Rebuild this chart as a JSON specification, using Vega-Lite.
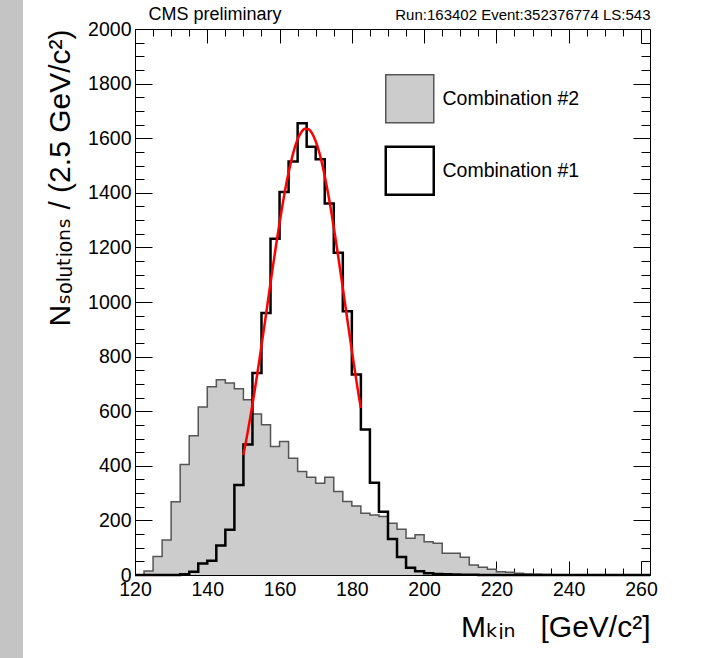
{
  "$schema": "https://vega.github.io/schema/vega-lite/v6.json",
  "width": 515,
  "height": 546,
  "autosize": {"type": "none"},
  "padding": {"left": 135, "top": 29, "right": 62, "bottom": 83},
  "background": "#ffffff",
  "config": {
    "view": {"stroke": "#000000", "strokeWidth": 1},
    "axis": {"grid": false, "domain": false, "tickColor": "#000000", "tickWidth": 1, "labelColor": "#000000", "titleColor": "#000000", "labelFont": "Liberation Sans", "titleFont": "Liberation Sans, DejaVu Sans", "titleFontWeight": "normal", "labelFontSize": 19.5}
  },
  "datasets": {
    "hist": [
      {"combo": "Combination #2", "mass": 120, "count": 0},
      {"combo": "Combination #2", "mass": 122.5, "count": 15},
      {"combo": "Combination #2", "mass": 125, "count": 68},
      {"combo": "Combination #2", "mass": 127.5, "count": 128},
      {"combo": "Combination #2", "mass": 130, "count": 268},
      {"combo": "Combination #2", "mass": 132.5, "count": 405},
      {"combo": "Combination #2", "mass": 135, "count": 510},
      {"combo": "Combination #2", "mass": 137.5, "count": 615},
      {"combo": "Combination #2", "mass": 140, "count": 690},
      {"combo": "Combination #2", "mass": 142.5, "count": 715},
      {"combo": "Combination #2", "mass": 145, "count": 703},
      {"combo": "Combination #2", "mass": 147.5, "count": 682},
      {"combo": "Combination #2", "mass": 150, "count": 642},
      {"combo": "Combination #2", "mass": 152.5, "count": 590},
      {"combo": "Combination #2", "mass": 155, "count": 550},
      {"combo": "Combination #2", "mass": 157.5, "count": 471},
      {"combo": "Combination #2", "mass": 160, "count": 489},
      {"combo": "Combination #2", "mass": 162.5, "count": 428},
      {"combo": "Combination #2", "mass": 165, "count": 379},
      {"combo": "Combination #2", "mass": 167.5, "count": 358},
      {"combo": "Combination #2", "mass": 170, "count": 336},
      {"combo": "Combination #2", "mass": 172.5, "count": 358},
      {"combo": "Combination #2", "mass": 175, "count": 306},
      {"combo": "Combination #2", "mass": 177.5, "count": 269},
      {"combo": "Combination #2", "mass": 180, "count": 253},
      {"combo": "Combination #2", "mass": 182.5, "count": 226},
      {"combo": "Combination #2", "mass": 185, "count": 220},
      {"combo": "Combination #2", "mass": 187.5, "count": 214},
      {"combo": "Combination #2", "mass": 190, "count": 190},
      {"combo": "Combination #2", "mass": 192.5, "count": 168},
      {"combo": "Combination #2", "mass": 195, "count": 135},
      {"combo": "Combination #2", "mass": 197.5, "count": 147},
      {"combo": "Combination #2", "mass": 200, "count": 122},
      {"combo": "Combination #2", "mass": 202.5, "count": 116},
      {"combo": "Combination #2", "mass": 205, "count": 80},
      {"combo": "Combination #2", "mass": 207.5, "count": 80},
      {"combo": "Combination #2", "mass": 210, "count": 65},
      {"combo": "Combination #2", "mass": 212.5, "count": 37},
      {"combo": "Combination #2", "mass": 215, "count": 28},
      {"combo": "Combination #2", "mass": 217.5, "count": 21},
      {"combo": "Combination #2", "mass": 220, "count": 12},
      {"combo": "Combination #2", "mass": 222.5, "count": 10},
      {"combo": "Combination #2", "mass": 225, "count": 6},
      {"combo": "Combination #2", "mass": 227.5, "count": 4},
      {"combo": "Combination #2", "mass": 230, "count": 3},
      {"combo": "Combination #2", "mass": 232.5, "count": 2},
      {"combo": "Combination #2", "mass": 235, "count": 1},
      {"combo": "Combination #2", "mass": 237.5, "count": 1},
      {"combo": "Combination #2", "mass": 240, "count": 1},
      {"combo": "Combination #2", "mass": 242.5, "count": 0},
      {"combo": "Combination #2", "mass": 245, "count": 0},
      {"combo": "Combination #2", "mass": 247.5, "count": 0},
      {"combo": "Combination #2", "mass": 250, "count": 0},
      {"combo": "Combination #2", "mass": 252.5, "count": 0},
      {"combo": "Combination #2", "mass": 255, "count": 0},
      {"combo": "Combination #2", "mass": 257.5, "count": 0},
      {"combo": "Combination #2", "mass": 260, "count": 0},
      {"combo": "Combination #2", "mass": 262.5, "count": 0},
      {"combo": "Combination #1", "mass": 120, "count": 0},
      {"combo": "Combination #1", "mass": 122.5, "count": 0},
      {"combo": "Combination #1", "mass": 125, "count": 0},
      {"combo": "Combination #1", "mass": 127.5, "count": 0},
      {"combo": "Combination #1", "mass": 130, "count": 0},
      {"combo": "Combination #1", "mass": 132.5, "count": 3},
      {"combo": "Combination #1", "mass": 135, "count": 12},
      {"combo": "Combination #1", "mass": 137.5, "count": 42},
      {"combo": "Combination #1", "mass": 140, "count": 52},
      {"combo": "Combination #1", "mass": 142.5, "count": 108},
      {"combo": "Combination #1", "mass": 145, "count": 166},
      {"combo": "Combination #1", "mass": 147.5, "count": 330},
      {"combo": "Combination #1", "mass": 150, "count": 478},
      {"combo": "Combination #1", "mass": 152.5, "count": 740},
      {"combo": "Combination #1", "mass": 155, "count": 960},
      {"combo": "Combination #1", "mass": 157.5, "count": 1232},
      {"combo": "Combination #1", "mass": 160, "count": 1403},
      {"combo": "Combination #1", "mass": 162.5, "count": 1515},
      {"combo": "Combination #1", "mass": 165, "count": 1655},
      {"combo": "Combination #1", "mass": 167.5, "count": 1569},
      {"combo": "Combination #1", "mass": 170, "count": 1523},
      {"combo": "Combination #1", "mass": 172.5, "count": 1361},
      {"combo": "Combination #1", "mass": 175, "count": 1180},
      {"combo": "Combination #1", "mass": 177.5, "count": 966},
      {"combo": "Combination #1", "mass": 180, "count": 734},
      {"combo": "Combination #1", "mass": 182.5, "count": 533},
      {"combo": "Combination #1", "mass": 185, "count": 338},
      {"combo": "Combination #1", "mass": 187.5, "count": 232},
      {"combo": "Combination #1", "mass": 190, "count": 132},
      {"combo": "Combination #1", "mass": 192.5, "count": 66},
      {"combo": "Combination #1", "mass": 195, "count": 27},
      {"combo": "Combination #1", "mass": 197.5, "count": 14},
      {"combo": "Combination #1", "mass": 200, "count": 6},
      {"combo": "Combination #1", "mass": 202.5, "count": 4},
      {"combo": "Combination #1", "mass": 205, "count": 3},
      {"combo": "Combination #1", "mass": 207.5, "count": 2},
      {"combo": "Combination #1", "mass": 210, "count": 1},
      {"combo": "Combination #1", "mass": 212.5, "count": 1},
      {"combo": "Combination #1", "mass": 215, "count": 0},
      {"combo": "Combination #1", "mass": 217.5, "count": 0},
      {"combo": "Combination #1", "mass": 220, "count": 0},
      {"combo": "Combination #1", "mass": 222.5, "count": 0},
      {"combo": "Combination #1", "mass": 225, "count": 0},
      {"combo": "Combination #1", "mass": 227.5, "count": 0},
      {"combo": "Combination #1", "mass": 230, "count": 0},
      {"combo": "Combination #1", "mass": 232.5, "count": 0},
      {"combo": "Combination #1", "mass": 235, "count": 0},
      {"combo": "Combination #1", "mass": 237.5, "count": 0},
      {"combo": "Combination #1", "mass": 240, "count": 0},
      {"combo": "Combination #1", "mass": 242.5, "count": 0},
      {"combo": "Combination #1", "mass": 245, "count": 0},
      {"combo": "Combination #1", "mass": 247.5, "count": 0},
      {"combo": "Combination #1", "mass": 250, "count": 0},
      {"combo": "Combination #1", "mass": 252.5, "count": 0},
      {"combo": "Combination #1", "mass": 255, "count": 0},
      {"combo": "Combination #1", "mass": 257.5, "count": 0},
      {"combo": "Combination #1", "mass": 260, "count": 0},
      {"combo": "Combination #1", "mass": 262.5, "count": 0}
    ],
    "fit": [
      {"mass": 150, "fit": 440},
      {"mass": 151, "fit": 510},
      {"mass": 152, "fit": 585},
      {"mass": 153, "fit": 666},
      {"mass": 154, "fit": 751},
      {"mass": 155, "fit": 840},
      {"mass": 156, "fit": 931},
      {"mass": 157, "fit": 1024},
      {"mass": 158, "fit": 1115},
      {"mass": 159, "fit": 1205},
      {"mass": 160, "fit": 1290},
      {"mass": 161, "fit": 1370},
      {"mass": 162, "fit": 1442},
      {"mass": 163, "fit": 1504},
      {"mass": 164, "fit": 1556},
      {"mass": 165, "fit": 1596},
      {"mass": 166, "fit": 1622},
      {"mass": 167, "fit": 1635},
      {"mass": 168, "fit": 1633},
      {"mass": 169, "fit": 1618},
      {"mass": 170, "fit": 1589},
      {"mass": 171, "fit": 1547},
      {"mass": 172, "fit": 1493},
      {"mass": 173, "fit": 1428},
      {"mass": 174, "fit": 1355},
      {"mass": 175, "fit": 1274},
      {"mass": 176, "fit": 1187},
      {"mass": 177, "fit": 1097},
      {"mass": 178, "fit": 1005},
      {"mass": 179, "fit": 913},
      {"mass": 180, "fit": 822},
      {"mass": 181, "fit": 734},
      {"mass": 182, "fit": 650},
      {"mass": 182.5, "fit": 612}
    ]
  },
  "resolve": {"axis": {"x": "independent", "y": "independent"}},
  "layer": [
    {
      "data": {"values": [{}]},
      "mark": {"type": "rect", "color": "#c4c4c4", "clip": false},
      "encoding": {
        "x": {"datum": 82.6, "type": "quantitative", "scale": {"domain": [120, 262.5], "nice": false, "zero": false}, "axis": null},
        "x2": {"datum": 89.0},
        "y": {"datum": -310, "type": "quantitative", "scale": {"domain": [0, 2000], "nice": false}, "axis": null},
        "y2": {"datum": 2110}
      }
    },
    {
      "data": {"name": "hist"},
      "transform": [{"filter": "datum.combo === 'Combination #2'"}],
      "mark": {"type": "area", "interpolate": "step-after", "opacity": 1},
      "encoding": {
        "x": {"field": "mass", "type": "quantitative", "scale": {"domain": [120, 262.5], "nice": false, "zero": false},
          "axis": {"orient": "bottom", "values": [120, 140, 160, 180, 200, 220, 240, 260], "format": "d", "tickSize": -14, "labelPadding": 19, "labelFlush": false, "labelOverlap": false, "labelBaseline": "top",
            "title": "Mₖᵢₙ\u00a0\u00a0 [GeV/c²]", "titleFontSize": 30, "titleAnchor": "end", "titleBaseline": "alphabetic", "titlePadding": 38}},
        "y": {"field": "count", "type": "quantitative", "stack": null, "scale": {"domain": [0, 2000], "nice": false},
          "axis": {"orient": "left", "values": [0, 200, 400, 600, 800, 1000, 1200, 1400, 1600, 1800, 2000], "format": "d", "tickSize": -17, "labelPadding": 21, "labelFlush": false, "labelOverlap": false, "labelBaseline": "middle",
            "title": "Nₛₒₗᵤₜᵢₒₙₛ / (2.5 GeV/c²)", "titleFontSize": 30, "titleAnchor": "end", "titleBaseline": "alphabetic", "titlePadding": 18}},
        "fill": {"field": "combo", "type": "nominal", "scale": {"domain": ["Combination #2", "Combination #1"], "range": ["#cccccc", "#ffffff"]},
          "legend": {"title": null, "orient": "none", "legendX": 265, "legendY": 60, "padding": 0, "symbolType": "square", "symbolSize": 2304, "symbolOpacity": 1,
            "labelFont": "Liberation Sans", "labelFontSize": 19.5, "labelColor": "#000000", "labelOffset": 23, "rowPadding": 15,
            "encode": {"symbols": {"update": {"fill": {"scale": "fill", "field": "value"}, "stroke": {"signal": "datum.value === 'Combination #1' ? '#000000' : '#555555'"}, "strokeWidth": {"signal": "datum.value === 'Combination #1' ? 2.5 : 1.5"}}}}}}
      }
    },
    {
      "data": {"name": "hist"},
      "transform": [{"filter": "datum.combo === 'Combination #2'"}],
      "mark": {"type": "line", "interpolate": "step-after", "color": "#555555", "strokeWidth": 1.5},
      "encoding": {
        "x": {"field": "mass", "type": "quantitative", "scale": {"domain": [120, 262.5], "nice": false, "zero": false},
          "axis": {"orient": "bottom", "values": [125, 130, 135, 145, 150, 155, 165, 170, 175, 185, 190, 195, 205, 210, 215, 225, 230, 235, 245, 250, 255], "tickSize": -7, "labels": false, "title": null}},
        "y": {"field": "count", "type": "quantitative", "scale": {"domain": [0, 2000], "nice": false},
          "axis": {"orient": "left", "values": [50, 100, 150, 250, 300, 350, 450, 500, 550, 650, 700, 750, 850, 900, 950, 1050, 1100, 1150, 1250, 1300, 1350, 1450, 1500, 1550, 1650, 1700, 1750, 1850, 1900, 1950], "tickSize": -9, "labels": false, "title": null}}
      }
    },
    {
      "data": {"name": "hist"},
      "transform": [{"filter": "datum.combo === 'Combination #1'"}],
      "mark": {"type": "line", "interpolate": "step-after", "color": "#000000", "strokeWidth": 2.5},
      "encoding": {
        "x": {"field": "mass", "type": "quantitative", "scale": {"domain": [120, 262.5], "nice": false, "zero": false},
          "axis": {"orient": "top", "values": [120, 140, 160, 180, 200, 220, 240, 260], "tickSize": -14, "labels": false,
            "title": "Run:163402 Event:352376774 LS:543", "titleFont": "Liberation Sans", "titleFontSize": 15, "titleAnchor": "end", "titleBaseline": "alphabetic", "titlePadding": 9.5}},
        "y": {"field": "count", "type": "quantitative", "scale": {"domain": [0, 2000], "nice": false},
          "axis": {"orient": "right", "values": [0, 200, 400, 600, 800, 1000, 1200, 1400, 1600, 1800, 2000], "tickSize": -17, "labels": false, "title": null}}
      }
    },
    {
      "data": {"name": "fit"},
      "mark": {"type": "line", "interpolate": "monotone", "color": "#ff0000", "strokeWidth": 2.5},
      "encoding": {
        "x": {"field": "mass", "type": "quantitative", "scale": {"domain": [120, 262.5], "nice": false, "zero": false},
          "axis": {"orient": "top", "values": [125, 130, 135, 145, 150, 155, 165, 170, 175, 185, 190, 195, 205, 210, 215, 225, 230, 235, 245, 250, 255], "tickSize": -7, "labels": false,
            "title": "CMS preliminary", "titleFont": "Liberation Sans", "titleFontSize": 18, "titleAnchor": "start", "titleX": 13, "titleBaseline": "alphabetic", "titlePadding": 9.5}},
        "y": {"field": "fit", "type": "quantitative", "scale": {"domain": [0, 2000], "nice": false},
          "axis": {"orient": "right", "values": [50, 100, 150, 250, 300, 350, 450, 500, 550, 650, 700, 750, 850, 900, 950, 1050, 1100, 1150, 1250, 1300, 1350, 1450, 1500, 1550, 1650, 1700, 1750, 1850, 1900, 1950], "tickSize": -9, "labels": false, "title": null}}
      }
    }
  ]
}
